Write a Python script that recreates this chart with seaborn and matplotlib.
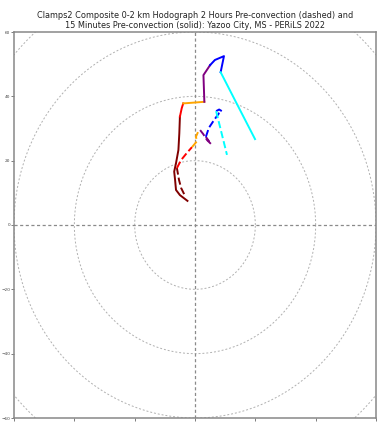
import numpy as np
import pandas as pd
import matplotlib
matplotlib.use("Agg")
import matplotlib.pyplot as plt
import seaborn as sns

# Wind components (kt) along the 0-2 km profile, lowest level first
u_solid = [-2.5, -5.0, -6.3, -6.6, -6.9, -6.3, -5.5, -5.2, -5.0, -4.4, -3.9,
           3.1, 2.8, 5.0, 6.6, 9.6, 8.5, 13.8, 19.9]
v_solid = [7.5, 9.3, 10.9, 14.0, 16.6, 19.2, 23.3, 28.5, 33.7, 36.3, 37.8,
           38.3, 46.6, 49.7, 51.3, 52.5, 47.5, 37.8, 26.7]
# index of the point where each height layer ends (inclusive)
layer_end_solid = [8, 10, 11, 13, 16, 18]

u_dashed = [-3.6, -4.6, -5.3, -6.0, -4.6, -2.7, -1.0, 0.7, 0.3, 1.0, 1.7,
            2.7, 4.0, 5.3, 3.6, 4.6, 6.3, 8.0, 8.9, 8.0, 7.0, 10.6]
v_dashed = [9.6, 11.5, 14.0, 17.7, 20.2, 22.4, 24.2, 26.1, 27.4, 28.9, 29.5,
            28.3, 26.4, 25.2, 27.4, 30.2, 32.6, 34.8, 35.4, 35.9, 35.4, 21.8]
layer_end_dashed = [3, 6, 10, 14, 20, 21]

layer_names = ["0-0.5 km", "0.5-0.75 km", "0.75-1 km", "1-1.25 km", "1.25-1.5 km", "1.5-2 km"]
layer_colors = ["maroon", "red", "orange", "purple", "blue", "cyan"]

ring_radii = [20, 40, 60, 80]
axis_ticks = [-60, -40, -20, 0, 20, 40, 60]


def layered_frame(u, v, ends):
    rows = []
    start = 0
    for k, end in enumerate(ends):
        for i in range(start, end + 1):
            rows.append({"u": u[i], "v": v[i], "layer": layer_names[k]})
        start = end
    return pd.DataFrame(rows)


fig = plt.figure(figsize=(3.78, 4.22), dpi=100)
ax = fig.add_axes([14 / 378, 4 / 422, 362 / 378, 386 / 422])

# range rings and axes lines
theta = np.linspace(0, 2 * np.pi, 400)
for r in ring_radii:
    ax.plot(r * np.cos(theta), r * np.sin(theta), color="#b0b0b0",
            lw=0.7, ls=(0, (2, 2)), zorder=1)
ax.axhline(0, color="#8a8a8a", lw=0.9, ls=(0, (2.5, 2)), zorder=1)
ax.axvline(0, color="#8a8a8a", lw=0.9, ls=(0, (2.5, 2)), zorder=1)

palette = dict(zip(layer_names, layer_colors))
sns.lineplot(data=layered_frame(u_dashed, v_dashed, layer_end_dashed),
             x="u", y="v", hue="layer", palette=palette, sort=False,
             estimator=None, lw=1.4, ls="--", legend=False, ax=ax, zorder=3)
sns.lineplot(data=layered_frame(u_solid, v_solid, layer_end_solid),
             x="u", y="v", hue="layer", palette=palette, sort=False,
             estimator=None, lw=1.4, legend=False, ax=ax, zorder=4)

ax.set_xlim(-60, 60)
ax.set_ylim(-60, 60)
ax.set_xticks(axis_ticks)
ax.set_yticks(axis_ticks)
ax.set_xticklabels([])
ax.set_xlabel("")
ax.set_ylabel("")
ax.tick_params(axis="both", labelsize=3.1, length=2.2, width=0.6,
               color="#666666", labelcolor="#444444", pad=0.6)
for s in ax.spines.values():
    s.set_color("#888888")
    s.set_linewidth(1.1)

ax.set_title("Clamps2 Composite 0-2 km Hodograph 2 Hours Pre-convection (dashed) and\n"
             "15 Minutes Pre-convection (solid): Yazoo City, MS - PERiLS 2022",
             fontsize=5.9, color="#222222", pad=3, linespacing=1.15)

fig.savefig("out.png", dpi=100)
